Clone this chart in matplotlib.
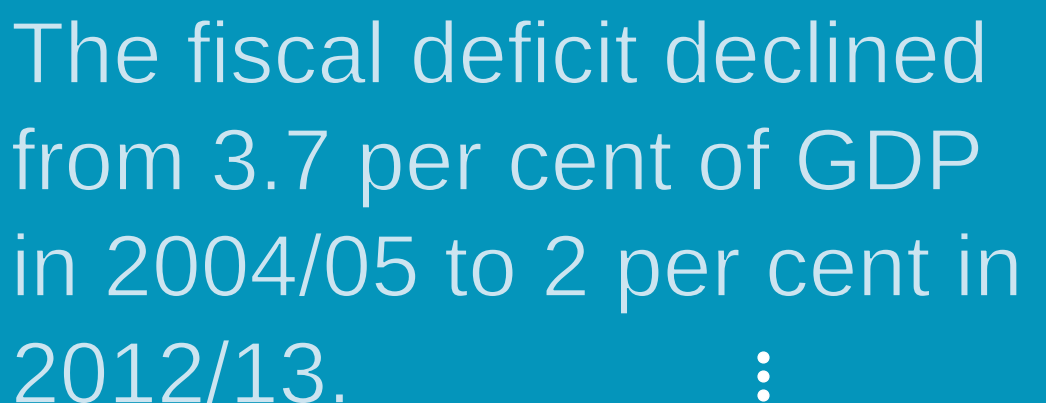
import matplotlib.pyplot as plt
import matplotlib.patheffects as pe

bg = '#0495bb'
fg = '#cce4f0'

lines = ["The fiscal deficit declined",
         "from 3.7 per cent of GDP",
         "in 2004/05 to 2 per cent in",
         "2012/13."]
baselines = [83, 190, 296, 403]  # pixels from top
dots_y = [357, 376, 395]

W, H = 1046, 403
fig = plt.figure(figsize=(W / 100, H / 100), dpi=100, facecolor=bg)
ax = fig.add_axes([0, 0, 1, 1])
ax.set_xlim(0, W)
ax.set_ylim(H, 0)
ax.axis('off')

# thin the strokes a little with a background-coloured outline on top
thin = [pe.Normal(), pe.Stroke(linewidth=1.2, foreground=bg)]
for txt, y in zip(lines, baselines):
    ax.text(11, y, txt, fontsize=63, color=fg, family='Liberation Sans',
            va='baseline', ha='left', path_effects=thin)

ax.scatter([763] * len(dots_y), dots_y, s=60, color='white', zorder=3)

fig.savefig('out.png', dpi=100, facecolor=bg)
